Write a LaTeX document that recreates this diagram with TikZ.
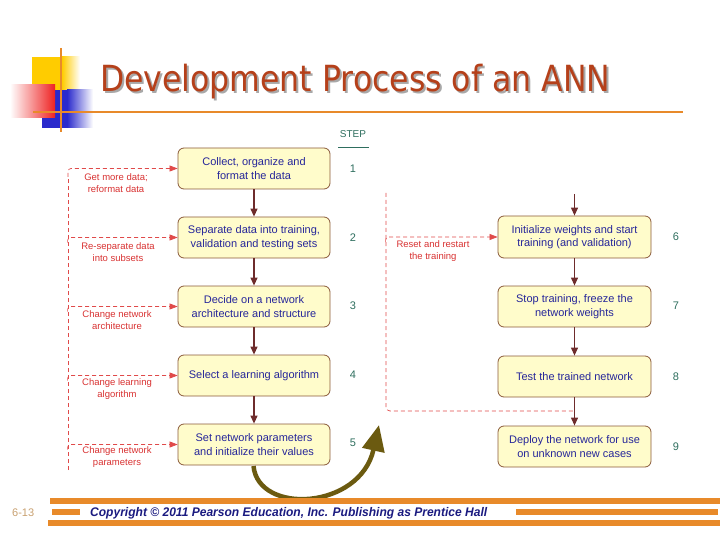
\documentclass[tikz,border=0pt]{standalone}
\usepackage{fontspec}
\setmainfont{Liberation Sans}
\newfontfamily\titlefont{DejaVu Sans}
\usetikzlibrary{arrows.meta,calc}
\definecolor{boxfill}{HTML}{FFFCCB}
\definecolor{boxline}{HTML}{8A5A3A}
\definecolor{boxtext}{HTML}{26269A}
\definecolor{flow}{HTML}{6E2C2C}
\definecolor{fb}{HTML}{E04A4A}
\definecolor{fbtext}{HTML}{D83232}
\definecolor{stepcol}{HTML}{2E6E5E}
\definecolor{olivearrow}{HTML}{6B5A10}
\definecolor{bar}{HTML}{E88A2A}
\definecolor{titlered}{HTML}{B5401A}
\definecolor{titleshadow}{HTML}{A8A8A8}
\definecolor{navytext}{HTML}{1A1A80}
\definecolor{pagenum}{HTML}{C8A070}
\definecolor{decoyellow}{HTML}{FFCC00}
\definecolor{decored}{HTML}{EE2222}
\definecolor{decoblue}{HTML}{2A2ACC}
\newcommand{\mytitletext}{\resizebox{510pt}{\height}{\titlefont\fontsize{36}{40}\selectfont Development Process of an ANN}}
\begin{document}
\begin{tikzpicture}[x=1pt,y=-1pt,
  stepbox/.style={draw=boxline, fill=boxfill, line width=0.8pt, rounded corners=6pt,
    minimum width=152pt, minimum height=41pt, inner sep=0pt, align=center,
    text=boxtext, font=\fontsize{11}{13.5}\selectfont},
  flowarrow/.style={draw=flow, line width=1.2pt, -{Triangle[length=8pt,width=7pt]}},
  fbline/.style={draw=fb, line width=0.7pt, dash pattern=on 4pt off 3pt},
  fbarrow/.style={fbline, -{Triangle[length=8pt,width=6pt]}},
  fblabel/.style={text=fbtext, inner sep=0pt, align=center, font=\fontsize{9.5}{12}\selectfont},
  stepnum/.style={text=stepcol, inner sep=0pt, font=\fontsize{11}{13}\selectfont}]
\useasboundingbox (0,0) rectangle (720,540);

% decoration top left
\fill[decoyellow] (32,57) rectangle (62,90);
\shade[left color=decoyellow, right color=white] (62,57) rectangle (80,90);
\fill[decoblue] (42,90) rectangle (67,128);
\shade[left color=decoblue, right color=white] (67,90) rectangle (93,128);
\shade[left color=white, right color=decored] (10,85) rectangle (55,118);
\draw[bar, line width=2.5pt] (61,48) -- (61,132);
\draw[bar, line width=2.5pt] (33,112) -- (683,112);

% title with shadow
\node[anchor=base west, inner sep=0pt] (title) at (100,92)
  {\rlap{\raisebox{-2pt}{\hspace{2pt}\textcolor{titleshadow}{\mytitletext}}}\textcolor{titlered}{\mytitletext}};

% STEP header
\node[text=stepcol, inner sep=0pt, font=\fontsize{10}{12}\selectfont] (steph) at (353,134) {STEP};
\draw[stepcol, line width=1pt] (338,148) -- (369,148);

% left column
\node[stepbox] (b1) at (254,168.5) {Collect, organize and\\format the data};
\node[stepbox] (b2) at (254,237.5) {Separate data into training,\\validation and testing sets};
\node[stepbox] (b3) at (254,306.5) {Decide on a network\\architecture and structure};
\node[stepbox] (b4) at (254,375.5) {Select a learning algorithm};
\node[stepbox] (b5) at (254,444.5) {Set network parameters\\and initialize their values};

% right column
\node[stepbox, minimum width=153pt, minimum height=42pt] (b6) at (574.5,237) {Initialize weights and start\\training (and validation)};
\node[stepbox, minimum width=153pt] (b7) at (574.5,306.5) {Stop training, freeze the\\network weights};
\node[stepbox, minimum width=153pt] (b8) at (574.5,376.5) {Test the trained network};
\node[stepbox, minimum width=153pt] (b9) at (574.5,446.5) {Deploy the network for use\\on unknown new cases};

% step numbers
\node[stepnum] (n1) at (353,169) {1};
\node[stepnum] (n2) at (353,238) {2};
\node[stepnum] (n3) at (353,306) {3};
\node[stepnum] (n4) at (353,375) {4};
\node[stepnum] (n5) at (353,443) {5};
\node[stepnum] (n6) at (676,237) {6};
\node[stepnum] (n7) at (676,306) {7};
\node[stepnum] (n8) at (676,377) {8};
\node[stepnum] (n9) at (676,447) {9};

% main flow
\draw[flowarrow] (b1) -- (b2);
\draw[flowarrow] (b2) -- (b3);
\draw[flowarrow] (b3) -- (b4);
\draw[flowarrow] (b4) -- (b5);
\coordinate (in6) at (574.5,194);
\draw[flowarrow] (in6) -- (b6);
\draw[flowarrow] (b6) -- (b7);
\draw[flowarrow] (b7) -- (b8);
\draw[flowarrow] (b8) -- (b9);

% left feedback
\coordinate (lbot) at (68,470);
\coordinate (ltop) at (68,177);
\draw[fbline] (lbot) -- (ltop);
\draw[fbarrow, rounded corners=3pt] (ltop) |- (b1.west);
\draw[fbarrow, rounded corners=3pt] ($(b2.west)+(-110,5)$) |- (b2.west);
\draw[fbarrow, rounded corners=3pt] ($(b3.west)+(-110,5)$) |- (b3.west);
\draw[fbarrow, rounded corners=3pt] ($(b4.west)+(-110,5)$) |- (b4.west);
\draw[fbarrow, rounded corners=3pt] ($(b5.west)+(-110,5)$) |- (b5.west);

\node[fblabel] (l1) at (116,183) {Get more data;\\reformat data};
\node[fblabel] (l2) at (118,252) {Re-separate data\\into subsets};
\node[fblabel] (l3) at (117,320) {Change network\\architecture};
\node[fblabel] (l4) at (117,389) {Change learning\\algorithm};
\node[fblabel] (l5) at (117,457.5) {Change network\\parameters};

% right feedback
\coordinate (rtop) at (386,193);
\coordinate (rjoin) at (574.5,411);
\draw[fbline, rounded corners=4pt] (rtop) |- (rjoin);
\draw[fbarrow, rounded corners=3pt] ($(b6.west)+(-112,5)$) |- (b6.west);
\node[fblabel] (l6) at (433,251) {Reset and restart\\the training};

% curved olive arrow
\coordinate (cstart) at (253.5,466);
\coordinate (ctip) at (379,425);
\draw[olivearrow, line width=4.5pt, -{Triangle[length=26pt,width=22pt]}]
  (cstart) .. controls (258,515) and (360,510) .. (ctip);

% footer
\fill[bar] (50,498) rectangle (720,504);
\fill[bar] (48,520) rectangle (720,526);
\fill[bar] (52,509) rectangle (80,515);
\fill[bar] (516,509) rectangle (718,515);
\node[anchor=base west, inner sep=0pt, text=pagenum, font=\fontsize{11}{13}\selectfont] (pg) at (12,516) {6-13};
\node[anchor=base west, inner sep=0pt, text=navytext] (copy) at (90,516)
  {\resizebox{397pt}{\height}{\fontsize{12.5}{14}\selectfont\bfseries\itshape Copyright © 2011 Pearson Education, Inc. Publishing as Prentice Hall}};
\end{tikzpicture}
\end{document}
